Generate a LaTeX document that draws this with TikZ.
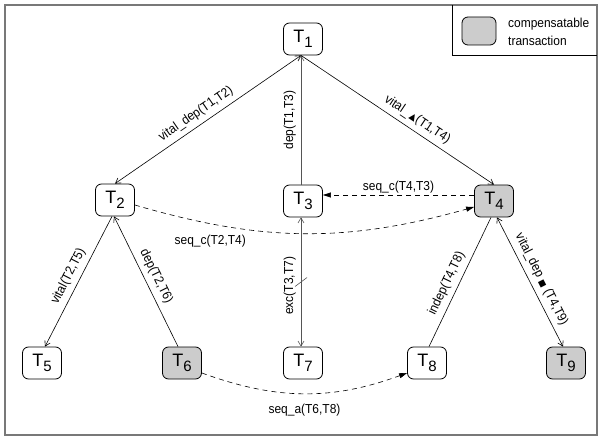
\documentclass[tikz,border=0pt]{standalone}
\usepackage{fontspec}
\setmainfont{Liberation Sans}
\newfontfamily\lblfont[FakeStretch=0.92]{Liberation Sans}
\newfontfamily\glyphfont{DejaVu Sans}
\usetikzlibrary{arrows.meta,calc}
\definecolor{compfill}{RGB}{204,204,204}
\definecolor{framegray}{RGB}{120,120,120}
\definecolor{linkgray}{RGB}{85,85,85}
% transaction name: T with a large, lowered index
\newcommand{\tsub}[1]{T\raisebox{-4.5pt}{\fontsize{15}{15}\selectfont #1}}
\begin{document}
\begin{tikzpicture}[x=1pt,y=1pt,
  >={Straight Barb[length=5pt,width=6pt]},
  task/.style={draw, rounded corners=6pt, minimum width=39pt, minimum height=32pt,
    inner sep=0pt, line width=0.8pt, font=\fontsize{18}{18}\selectfont},
  comptask/.style={task, fill=compfill},
  link/.style={line width=0.6pt},
  greylink/.style={link, draw=linkgray},
  seqlink/.style={link, dash pattern=on 5pt off 4pt, -{Triangle[length=8pt,width=5pt]}},
  lbl/.style={font=\lblfont\fontsize{13}{13}\selectfont, inner sep=2pt},
  slbl/.style={lbl, sloped, above=3pt},
]
\useasboundingbox (0,0) rectangle (598,440);

% outer frame and legend
\draw[framegray, line width=1.2pt] (5,5) rectangle (597,435);
\draw[line width=0.7pt] (452,435) |- (597,385);
\node[comptask, minimum width=34pt, minimum height=28pt] (key) at (479,409) {};
\node[lbl, anchor=west, align=left, font=\lblfont\fontsize{13}{18}\selectfont] (keytext) at (506,408) {compensatable\\transaction};

% transactions
\node[task] (T1) at (303,401) {\tsub{1}};
\node[task] (T2) at (115,240) {\tsub{2}};
\node[task] (T3) at (303,239) {\tsub{3}};
\node[comptask] (T4) at (494,239) {\tsub{4}};
\node[task] (T5) at (42,77) {\tsub{5}};
\node[comptask] (T6) at (182,77) {\tsub{6}};
\node[task] (T7) at (303,77) {\tsub{7}};
\node[task] (T8) at (427,77) {\tsub{8}};
\node[comptask] (T9) at (566,77) {\tsub{9}};

% dependencies from T1
\draw[link,<->] (T2.north) -- node[slbl, pos=0.47] {vital\_dep(T1,T2)} ([xshift=-2pt]T1.south);
\draw[greylink,->] ([xshift=-2pt]T3.north) -- node[slbl] {dep(T1,T3)} ([xshift=-2pt]T1.south);
\draw[link,->] ([xshift=-2pt]T1.south) -- node[slbl, pos=0.57] {vital\_\,{\glyphfont\fontsize{9}{9}\selectfont ▲}(T1,T4)} (T4.north);

% sequencing constraints
\draw[seqlink] ([yshift=6pt]T4.west) -- node[lbl, above] {seq\_c(T4,T3)} ([yshift=6pt]T3.east);
\draw[seqlink] ([yshift=-5pt]T2.east) to[bend right=16] node[lbl, pos=0.21, below=9pt] {seq\_c(T2,T4)} ([yshift=-6pt]T4.west);
\draw[seqlink] ([yshift=-10pt]T6.east) to[bend right=20] node[lbl, below=8pt] {seq\_a(T6,T8)} ([yshift=-10pt]T8.west);

% subtree of T2
\draw[link,<-] ([xshift=3pt]T5.north) -- node[slbl] {vital(T2,T5)} ([xshift=-3pt]T2.south);
\draw[link,<-] ([xshift=-1pt]T2.south) -- node[slbl] {dep(T2,T6)} ([xshift=-4pt]T6.north);

% exclusion between T3 and T7
\draw[greylink,<->] ([xshift=-2pt]T7.north) -- node[slbl, pos=0.47] {exc(T3,T7)} coordinate[pos=0.5] (excmid) ([xshift=-2pt]T3.south);
\draw[greylink] ($(excmid)+(-6,-4.5)$) -- ($(excmid)+(6,4.5)$);

% subtree of T4
\draw[link] ([xshift=2pt]T8.north) -- node[slbl, pos=0.45] {indep(T4,T8)} ([xshift=-3pt]T4.south);
\draw[link,<->] ([xshift=3pt]T4.south) -- node[slbl, pos=0.52] {vital\_dep {\glyphfont\fontsize{8}{8}\selectfont ■} (T4,T9)} ([xshift=-3pt]T9.north);
\end{tikzpicture}
\end{document}
